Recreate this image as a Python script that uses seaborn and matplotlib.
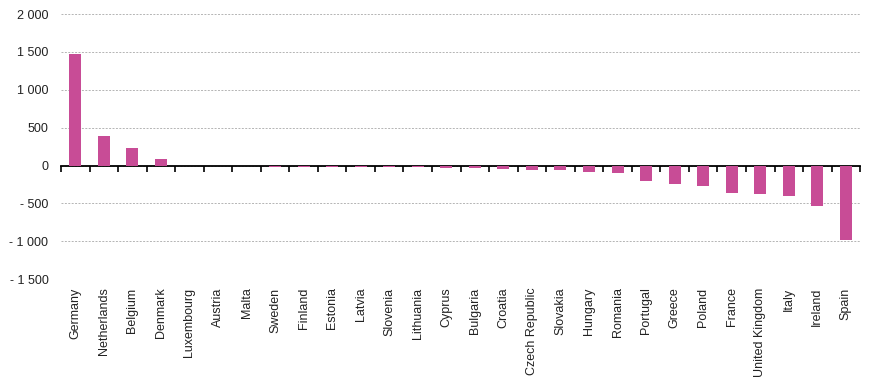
import pandas as pd
import numpy as np
import matplotlib
matplotlib.use("Agg")
import matplotlib.pyplot as plt
import seaborn as sns
from matplotlib.ticker import FuncFormatter, MultipleLocator

countries = ["Germany", "Netherlands", "Belgium", "Denmark", "Luxembourg", "Austria",
             "Malta", "Sweden", "Finland", "Estonia", "Latvia", "Slovenia", "Lithuania",
             "Cyprus", "Bulgaria", "Croatia", "Czech Republic", "Slovakia", "Hungary",
             "Romania", "Portugal", "Greece", "Poland", "France", "United Kingdom",
             "Italy", "Ireland", "Spain"]
values = [1470, 395, 238, 92, 0, 0,
          0, -20, -20, -20, -20, -20, -20,
          -30, -30, -40, -65, -65, -80,
          -92, -210, -250, -276, -367, -381,
          -407, -538, -983]

df = pd.DataFrame({"country": countries, "value": values})

sns.set_style("white")
plt.rcParams["font.family"] = ["Liberation Sans", "DejaVu Sans"]

fig = plt.figure(figsize=(8.75, 3.92), dpi=100)
ax = fig.add_axes([0.0697, 0.288, 0.9133, 0.676])

sns.barplot(data=df, x="country", y="value", color="#C84C96", width=0.42,
            saturation=1, linewidth=0, edgecolor="none", ax=ax, zorder=2)

ax.set_ylim(-1500, 2000)
ax.set_xlim(-0.5, len(countries) - 0.5)
ax.yaxis.set_major_locator(MultipleLocator(500))


def fmt(v, pos):
    s = f"{abs(int(round(v))):,}".replace(",", " ")
    return "- " + s if v < 0 else s


ax.yaxis.set_major_formatter(FuncFormatter(fmt))
ax.grid(axis="y", color="#B4B4B4", linestyle=(0, (2, 1.5)), linewidth=0.7)
ax.set_axisbelow(True)
for s in ax.spines.values():
    s.set_visible(False)

ax.tick_params(axis="y", length=0, pad=9, labelsize=9, labelcolor="#222222")
ax.tick_params(axis="x", length=0, pad=6, labelsize=9, labelcolor="#222222")
plt.setp(ax.get_xticklabels(), rotation=90)
ax.set_xlabel("")
ax.set_ylabel("")

# zero line with category-boundary ticks, drawn beneath the bars
zero_axis = ax.secondary_xaxis(1500 / 3500)
zero_axis.set_xticks(np.arange(-0.5, len(countries), 1.0))
zero_axis.tick_params(direction="out", length=4, width=1.2, labelbottom=False,
                      labeltop=False, color="black")
zero_axis.spines["bottom"].set_linewidth(1.3)
zero_axis.spines["bottom"].set_color("black")
zero_axis.set_zorder(1)

fig.savefig("out.png", dpi=100)
